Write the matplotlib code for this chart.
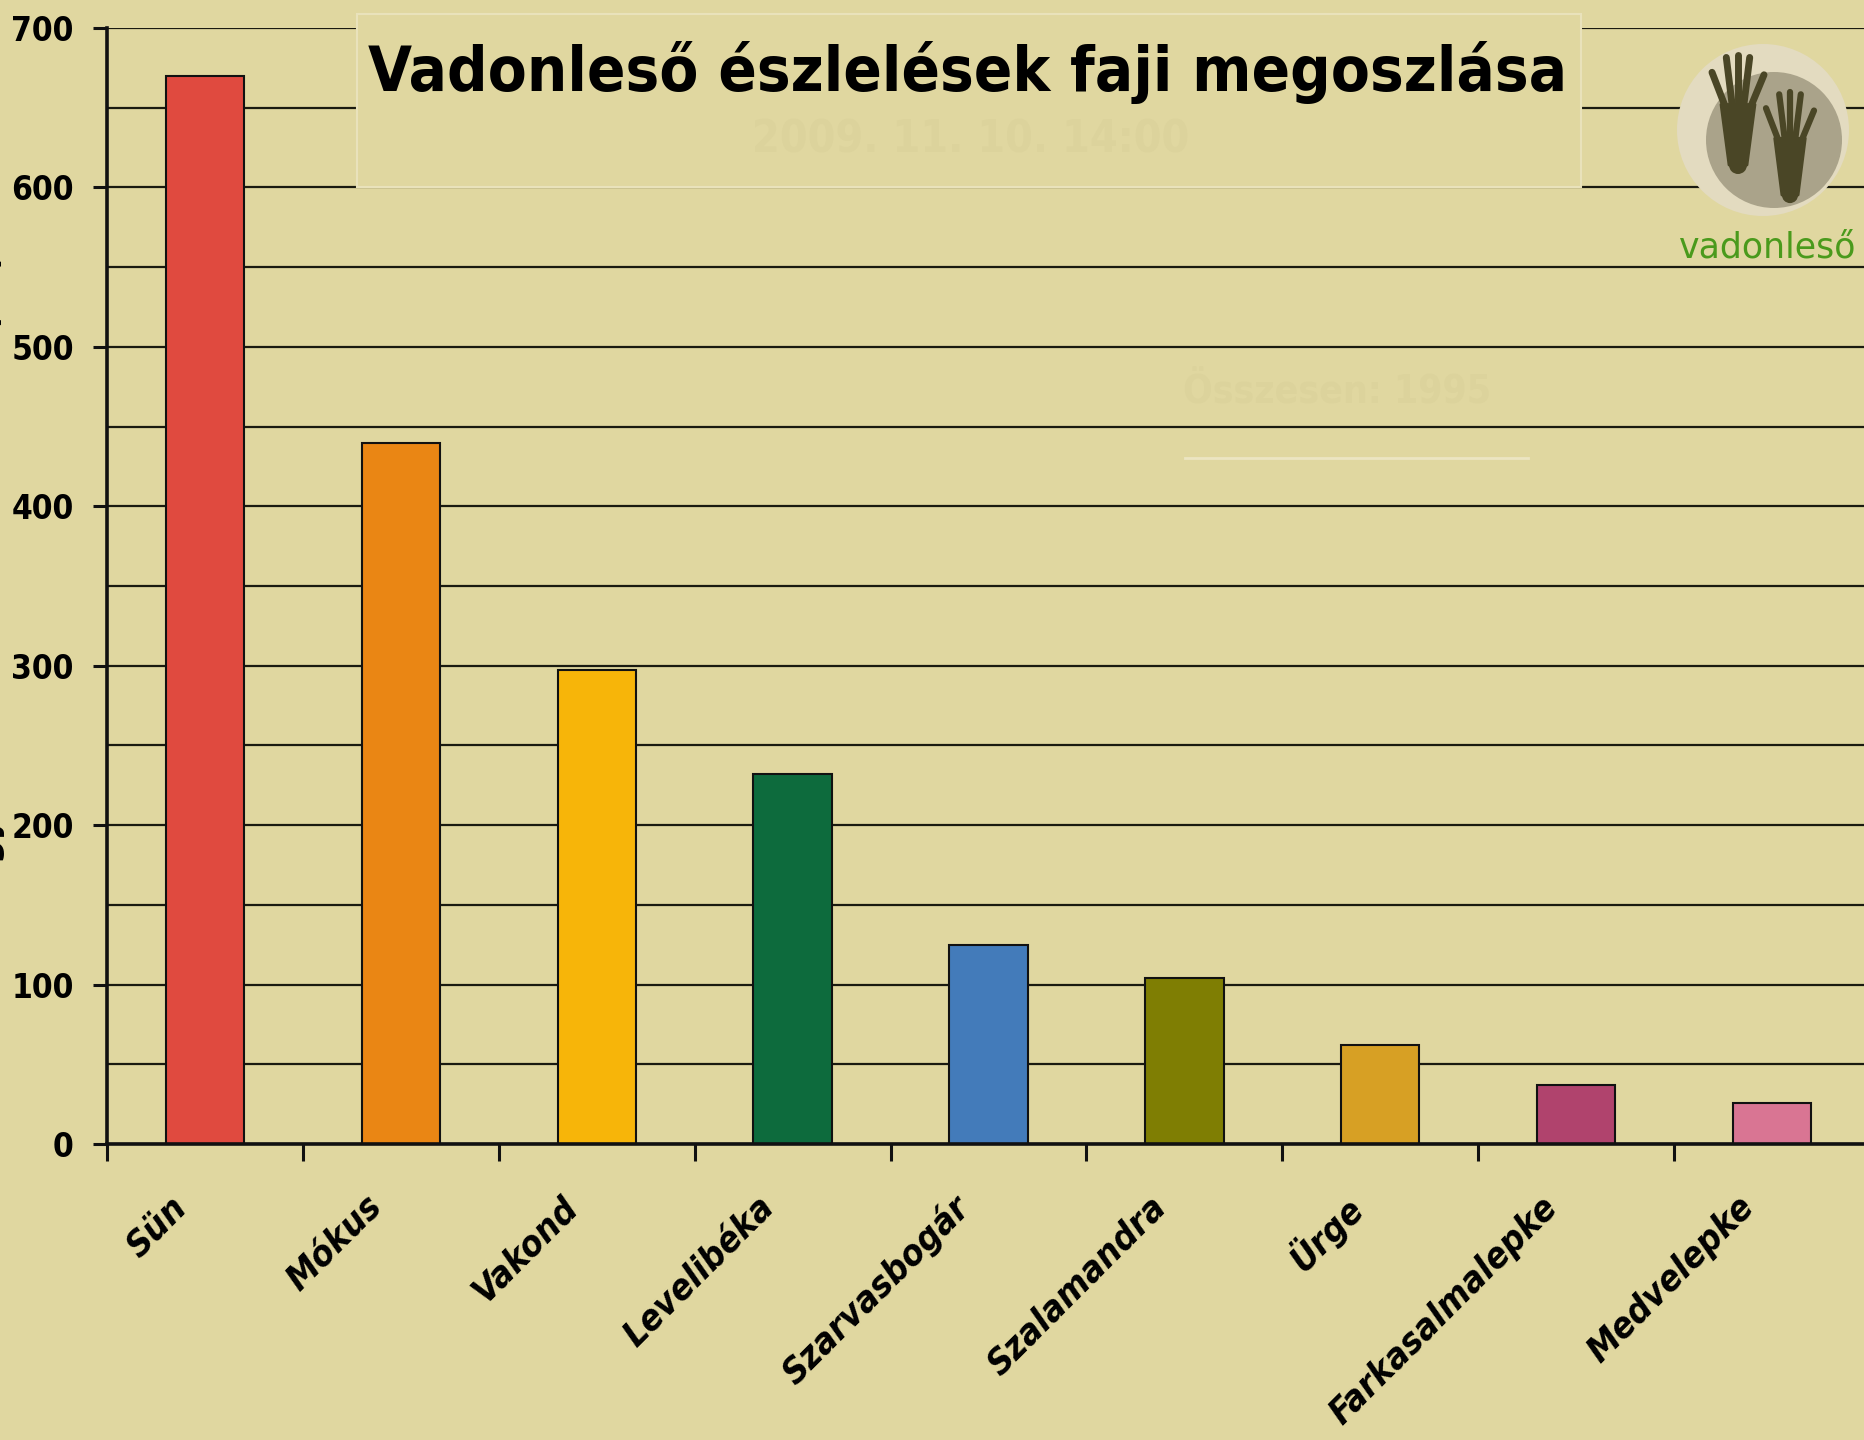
import matplotlib
matplotlib.use("Agg")
import matplotlib.pyplot as plt
from matplotlib.patches import Circle, Rectangle, Polygon
from matplotlib.transforms import ScaledTranslation
import numpy as np

# ---------------- data ----------------
species = ["Sün", "Mókus", "Vakond", "Levelibéka", "Szarvasbogár",
           "Szalamandra", "Ürge", "Farkasalmalepke", "Medvelepke"]
counts = [670, 440, 297, 232, 125, 104, 62, 37, 26]
bar_colors = ["#e04a3f", "#ea8614", "#f7b509", "#0d6b3d", "#437bba",
              "#7f7e03", "#d7a024", "#b0436d", "#d97593"]
yticks = [0, 100, 200, 300, 400, 500, 600, 700]

title = "Vadonleső észlelések faji megoszlása"
subtitle = "2009. 11. 10. 14:00"
total_text = "Összesen: 1995"
ylabel = "Egyedek észlelésének száma (db)"

bg = "#e0d7a0"
faint = "#dcd39c"
FONT = ["DejaVu Sans"]

# ---------------- figure ----------------
fig = plt.figure(figsize=(18.64, 14.40), dpi=100, facecolor=bg)
ax = fig.add_axes([107/1864, 1 - 1144/1440, 1763/1864, 1116/1440])
ax.set_facecolor(bg)

x = np.arange(len(species))
ax.bar(x, counts, width=0.4, color=bar_colors, edgecolor="#111111",
       linewidth=1.5, zorder=3)

ax.set_xlim(-0.5, len(species) - 0.5)
ax.set_ylim(0, 700)
ax.set_yticks(yticks)
ax.set_yticks(np.arange(50, 700, 100), minor=True)
ax.grid(axis="y", which="both", color="#1a1a10", linewidth=1.6, zorder=1)

# ticks on category borders, names written under the centres
ax.set_xticks(np.arange(len(species) + 1) - 0.5)
ax.set_xticklabels([])
ax.tick_params(axis="x", which="major", length=12, width=2.2, color="#111111")
lab_off = ax.get_xaxis_transform() + ScaledTranslation(-24/100, -58/100,
                                                       fig.dpi_scale_trans)
for xi, name in zip(x, species):
    ax.text(xi, 0, name, transform=lab_off, rotation=45, ha="right",
            va="center", rotation_mode="anchor", fontsize=26,
            fontweight="bold", style="italic", fontstretch="condensed",
            family=FONT, clip_on=False)

ax.tick_params(axis="y", which="major", length=10, width=2.2, pad=14,
               labelsize=24, color="#111111")
ax.tick_params(axis="y", which="minor", length=0)
for lab in ax.get_yticklabels():
    lab.set_fontweight("bold")
    lab.set_fontstretch("condensed")
    lab.set_family(FONT)

for s in ["top", "right"]:
    ax.spines[s].set_visible(False)
for s in ["left", "bottom"]:
    ax.spines[s].set_linewidth(2.6)
    ax.spines[s].set_color("#111111")
    ax.spines[s].set_zorder(4)

# y label, mostly clipped at the left edge (as in the source)
fig.text(5/1864, 1 - 570/1440, ylabel, rotation=90, ha="right", va="center",
         fontsize=24, fontweight="bold", family=FONT)

# ---------------- title box ----------------
fig.patches.append(Rectangle((357/1864, 1 - 187/1440), 1224/1864, 173/1440,
                             transform=fig.transFigure, facecolor=bg,
                             edgecolor="#e9e2bb", linewidth=1.5, zorder=5))
fig.text(968/1864, 1 - 72/1440, title, ha="center", va="center",
         fontsize=45.5, fontweight="heavy", fontstretch="condensed",
         family=FONT, zorder=6)
fig.text(971/1864, 1 - 140/1440, subtitle, ha="center", va="center",
         fontsize=32, fontweight="bold", fontstretch="condensed",
         color=faint, family=FONT, zorder=6)

# faint total text with a light underline
ax.text(1337/1864, 1 - 392/1440, total_text, transform=fig.transFigure,
        ha="center", va="center", fontsize=28, fontweight="bold",
        fontstretch="condensed", color=faint, family=FONT, zorder=2)
fig.add_artist(plt.Line2D([1185/1864, 1528/1864], [1 - 458/1440, 1 - 458/1440],
                          transform=fig.transFigure, color="#ece5c2",
                          linewidth=2))

# ---------------- logo ----------------
lx = fig.add_axes([1660/1864, 1 - 230/1440, 204/1864, 200/1440])
lx.set_xlim(1660, 1864)
lx.set_ylim(230, 30)
lx.set_aspect("equal")
lx.axis("off")
lx.add_patch(Circle((1763, 130), 86, facecolor="#e3dbc0", edgecolor="none"))
lx.add_patch(Circle((1774, 140), 68, facecolor="#aaa38a", edgecolor="none"))
hand = "#4a4626"


def draw_hand(cx, bottom, top, spread, scale):
    # palm
    knuck = bottom - (bottom - top) * 0.55
    palm = [(cx - 9 * scale, bottom), (cx + 9 * scale, bottom),
            (cx + 17 * scale, knuck), (cx - 17 * scale, knuck)]
    lx.add_patch(Polygon(palm, closed=True, facecolor=hand, edgecolor=hand,
                         linewidth=2, joinstyle="round"))
    lx.add_patch(Circle((cx, bottom), 9 * scale, facecolor=hand, edgecolor="none"))
    offs = [-1.0, -0.45, 0.0, 0.45, 1.0]
    tips = [0.35, 0.05, 0.0, 0.05, 0.4]
    for o, t in zip(offs, tips):
        x0 = cx + o * 12 * scale
        x1 = cx + o * spread
        y1 = top + t * (knuck - top)
        lx.plot([x0, x1], [knuck + 4, y1], color=hand, linewidth=5 * scale,
                solid_capstyle="round")


draw_hand(1738, 165, 55, 26, 1.0)
draw_hand(1790, 195, 92, 24, 0.9)

fig.text(1768/1864, 1 - 248/1440, "vadonleső", ha="center", va="center",
         fontsize=25, color="#4a9a1c", family=FONT)

fig.savefig("out.png", dpi=100, facecolor=bg)
